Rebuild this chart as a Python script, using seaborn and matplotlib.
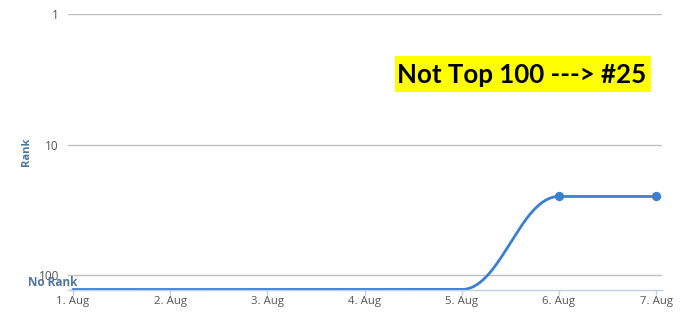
import numpy as np
import pandas as pd
import matplotlib
matplotlib.use("Agg")
import matplotlib.pyplot as plt
from matplotlib.patches import Rectangle
import seaborn as sns

# ---- data ----
dates = ["1. Aug", "2. Aug", "3. Aug", "4. Aug", "5. Aug", "6. Aug", "7. Aug"]
ranks = [None, None, None, None, None, 25, 25]   # None = not in top 100
NO_RANK = 129
y_ticks = [1, 10, 100]
annotation = "Not Top 100 ---> #25"

sns.set_theme(style="white")
plt.rcParams['font.family'] = ['Open Sans', 'DejaVu Sans']

df = pd.DataFrame({"day": np.arange(len(dates)),
                   "rank": [NO_RANK if r is None else r for r in ranks],
                   "ranked": [r is not None for r in ranks]})

# Highcharts-style spline (smoothing 1.5) computed in (x, log10 y) space
def spline(xs, ys, n=60):
    xs = np.asarray(xs, float); ys = np.asarray(ys, float)
    N = len(xs)
    lc = [(xs[i], ys[i]) for i in range(N)]
    rc = [(xs[i], ys[i]) for i in range(N)]
    s, d = 1.5, 2.5
    for i in range(1, N - 1):
        px, py = xs[i], ys[i]
        lx, ly = xs[i-1], ys[i-1]
        nx, ny = xs[i+1], ys[i+1]
        lcx = (s*px + lx)/d; lcy = (s*py + ly)/d
        rcx = (s*px + nx)/d; rcy = (s*py + ny)/d
        corr = ((rcy - lcy)*(rcx - px))/(rcx - lcx) + py - rcy
        lcy += corr; rcy += corr
        if lcy > ly and lcy > py:
            lcy = max(ly, py); rcy = 2*py - lcy
        elif lcy < ly and lcy < py:
            lcy = min(ly, py); rcy = 2*py - lcy
        if rcy > ny and rcy > py:
            rcy = max(ny, py); lcy = 2*py - rcy
        elif rcy < ny and rcy < py:
            rcy = min(ny, py); lcy = 2*py - rcy
        lc[i] = (lcx, lcy); rc[i] = (rcx, rcy)
    outx, outy = [], []
    t = np.linspace(0, 1, n)
    for i in range(1, N):
        p0 = np.array([xs[i-1], ys[i-1]]); p1 = np.array(rc[i-1])
        p2 = np.array(lc[i]); p3 = np.array([xs[i], ys[i]])
        pts = ((1-t)**3)[:, None]*p0 + (3*(1-t)**2*t)[:, None]*p1 + \
              (3*(1-t)*t**2)[:, None]*p2 + (t**3)[:, None]*p3
        outx.extend(pts[:, 0]); outy.extend(pts[:, 1])
    return np.array(outx), 10**np.array(outy)

sx, sy = spline(df["day"], np.log10(df["rank"]))
curve = pd.DataFrame({"day": sx, "rank": sy})

color = "#3a7fd2"
W, H = 700, 314
fig = plt.figure(figsize=(7, 3.14), dpi=100)
ax = fig.add_axes([68/W, 1 - 289.5/H, (662-68)/W, (289.5-14)/H])

sns.lineplot(data=curve, x="day", y="rank", ax=ax, color=color, lw=2,
             sort=False, estimator=None)
sns.scatterplot(data=df[df["ranked"]], x="day", y="rank", ax=ax, color=color,
                s=45, edgecolor=color, linewidth=0, zorder=5)

ax.set_yscale("log")
ax.set_ylim(NO_RANK, 1)
ax.set_xlim(-0.05, len(dates) - 1 + 0.06)
ax.set_yticks(y_ticks)
ax.set_yticklabels([str(v) for v in y_ticks])
ax.yaxis.set_minor_locator(matplotlib.ticker.NullLocator())
ax.set_xticks(df["day"])
ax.set_xticklabels(dates)
ax.set_xlabel(""); ax.set_ylabel("")
ax.grid(axis="y", color="#c0c0c0", lw=1)
ax.grid(axis="x", visible=False)
for side in ["top", "right", "left"]:
    ax.spines[side].set_visible(False)
ax.spines["bottom"].set_color("#c0d0e0")
ax.spines["bottom"].set_linewidth(1)
ax.tick_params(axis="y", length=0, pad=6.5, labelsize=8.5, labelcolor="#555555")
ax.tick_params(axis="x", length=3.5, width=1, color="#c0d0e0", pad=1.5,
               labelsize=8.2, labelcolor="#555555", direction="out", bottom=True)

fig.text(26/W, 1 - 152/H, "Rank", rotation=90, ha="center", va="center",
         fontsize=8, fontweight="bold", color="#4d759e")
fig.text(53/W, 1 - 282/H, "No Rank", ha="center", va="center",
         fontsize=8.5, fontweight="bold", color="#4d759e")

# yellow highlight box + annotation text
fig.patches.append(Rectangle((395/W, 1 - 92/H), (651-395)/W, (92-56)/H,
                             transform=fig.transFigure, facecolor="#ffff00",
                             edgecolor="none", zorder=1))
fig.text(522/W, 1 - 83/H, annotation, ha="center", va="baseline",
         fontsize=18.6, fontweight="bold", color="black",
         family=["Lato", "DejaVu Sans"], zorder=2)

fig.savefig("out.png", dpi=100)
